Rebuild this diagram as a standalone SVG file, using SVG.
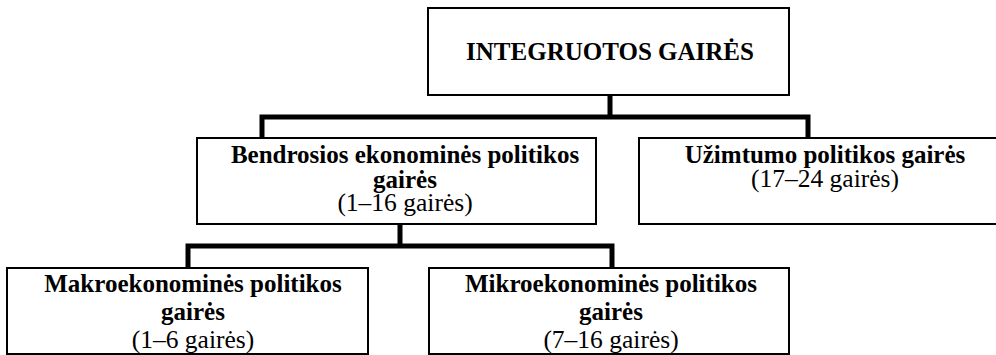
<svg xmlns="http://www.w3.org/2000/svg" width="996" height="355" viewBox="0 0 996 355">
<style>
.box{fill:#fff;stroke:#000;stroke-width:2}
.conn{fill:none;stroke:#000;stroke-width:5;stroke-linejoin:miter}
.b{font-family:"Liberation Serif","Times New Roman",serif;font-weight:bold;font-size:25px;text-anchor:middle;fill:#000}
.r{font-family:"Liberation Serif","Times New Roman",serif;font-size:25.5px;text-anchor:middle;fill:#000}
</style>
<rect width="996" height="355" fill="#fff"/>
<g id="connectors">
<path class="conn" d="M610 95 V117"/>
<path class="conn" d="M262 138 V117 H808 V138"/>
<path class="conn" d="M400 224 V246"/>
<path class="conn" d="M188 268 V246 H612 V268"/>
</g>
<g id="integruotos">
<rect class="box" x="428" y="8" width="361" height="87"/>
<text class="b" x="610" y="60">INTEGRUOTOS GAIRĖS</text>
</g>
<g id="bendrosios">
<rect class="box" x="197" y="138" width="399" height="86"/>
<text class="b" x="405" y="163">Bendrosios ekonominės politikos</text>
<text class="b" x="405" y="188">gairės</text>
<text class="r" x="405" y="211">(1–16 gairės)</text>
</g>
<g id="uzimtumo">
<rect class="box" x="639" y="138" width="370" height="86"/>
<text class="b" x="825" y="163">Užimtumo politikos gairės</text>
<text class="r" x="825" y="187">(17–24 gairės)</text>
</g>
<g id="makro">
<rect class="box" x="7" y="268" width="361" height="86"/>
<text class="b" x="193" y="292">Makroekonominės politikos</text>
<text class="b" x="193" y="320">gairės</text>
<text class="r" x="193" y="348">(1–6 gairės)</text>
</g>
<g id="mikro">
<rect class="box" x="429" y="268" width="360" height="86"/>
<text class="b" x="611" y="292">Mikroekonominės politikos</text>
<text class="b" x="611" y="320">gairės</text>
<text class="r" x="611" y="348">(7–16 gairės)</text>
</g>
</svg>
